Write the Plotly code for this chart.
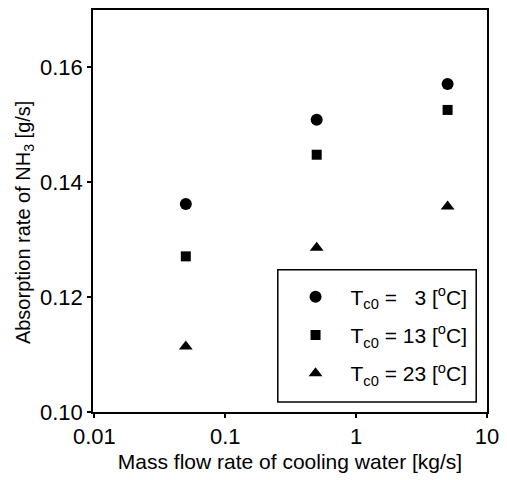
import plotly.graph_objects as go

flow = [0.05, 0.5, 5]
rate_3 = [0.1362, 0.1509, 0.1571]
rate_13 = [0.1271, 0.1448, 0.1526]
rate_23 = [0.1114, 0.1286, 0.1358]

names = ["T<sub>c0</sub> =   3 [<sup>o</sup>C]",
         "T<sub>c0</sub> = 13 [<sup>o</sup>C]",
         "T<sub>c0</sub> = 23 [<sup>o</sup>C]"]

xticks = [0.01, 0.1, 1, 10]
xticktext = ["0.01", "0.1", "1", "10"]
yticks = [0.10, 0.12, 0.14, 0.16]
yticktext = ["0.10", "0.12", "0.14", "0.16"]

font = "Liberation Sans, Arial, sans-serif"

fig = go.Figure()
fig.add_trace(go.Scatter(x=flow, y=rate_3, mode="markers", name=names[0], legendgroup="a",
                         marker=dict(symbol="circle", size=12, color="black")))
fig.add_trace(go.Scatter(x=flow, y=rate_13, mode="markers", name=names[1], legendgroup="b",
                         marker=dict(symbol="square", size=10, color="black")))
fig.add_trace(go.Scatter(x=flow, y=rate_23, mode="markers", name=names[2], legendgroup="c",
                         marker=dict(symbol="triangle-up", size=12, color="black")))

fig.update_layout(
    width=507, height=480,
    margin=dict(l=93, r=13, t=8, b=68),
    paper_bgcolor="white", plot_bgcolor="white",
    font=dict(family=font, size=21, color="black"),
    showlegend=True,
    legend=dict(x=0.476, y=0.337, xanchor="left", yanchor="top",
                borderwidth=0, bgcolor="rgba(0,0,0,0)",
                font=dict(size=21), itemwidth=60,
                tracegroupgap=8),
    shapes=[dict(type="rect", xref="paper", yref="paper",
                 x0=0.469, x1=0.9726, y0=0.0248, y1=0.354,
                 line=dict(color="black", width=1.5), fillcolor="rgba(0,0,0,0)")],
    annotations=[dict(text="Absorption rate of NH<sub>3</sub> [g/s]",
                      xref="paper", yref="paper", x=-0.175, y=0.47,
                      xanchor="center", yanchor="middle", textangle=-90,
                      showarrow=False, font=dict(size=20))],
)
fig.update_xaxes(type="log", range=[-2.01, 1.0],
                 tickvals=xticks, ticktext=xticktext,
                 showline=True, linecolor="black", linewidth=1.5, mirror=True,
                 ticks="outside", ticklen=4, tickwidth=1.5, tickcolor="black",
                 showgrid=False, zeroline=False,
                 tickfont=dict(size=22),
                 title=dict(text="Mass flow rate of cooling water [kg/s]",
                            font=dict(size=21), standoff=6))
fig.update_yaxes(range=[0.10, 0.17],
                 tickvals=yticks, ticktext=yticktext,
                 showline=True, linecolor="black", linewidth=1.5, mirror=True,
                 ticks="outside", ticklen=4, tickwidth=1.5, tickcolor="black",
                 showgrid=False, zeroline=False,
                 tickfont=dict(size=22))

fig.write_html("out.html")
